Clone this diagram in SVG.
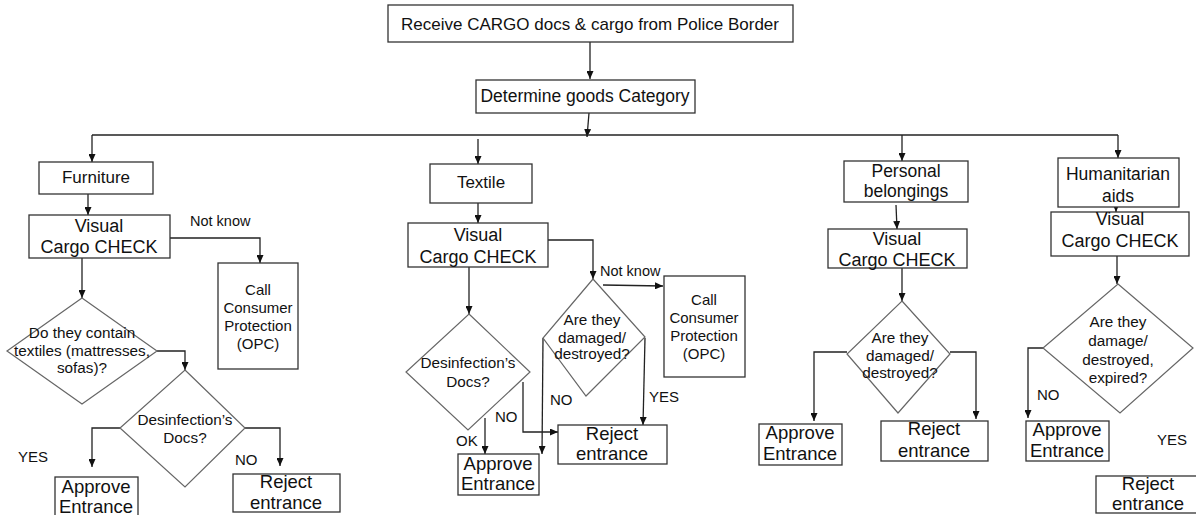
<svg xmlns="http://www.w3.org/2000/svg" width="1196" height="515" viewBox="0 0 1196 515">
  <style>
    text { font-family: "Liberation Sans", Arial, sans-serif; fill: #111; text-anchor: middle; }
    .box { fill: #fff; stroke: #333; stroke-width: 1.3; }
    .dia { fill: #fff; stroke: #666; stroke-width: 1.2; }
    .wire { fill: none; stroke: #222; stroke-width: 1.3; }
    .arr { marker-end: url(#head); }
    .t17 { font-size: 17px; }
    .t18 { font-size: 18px; }
    .t185 { font-size: 18.5px; }
    .t15 { font-size: 15px; }
    .q { font-size: 15.3px; }
    .lbl { font-size: 15px; text-anchor: start; }
  </style>
  <defs>
    <marker id="head" viewBox="0 0 8 7" refX="8" refY="3.5" markerWidth="8" markerHeight="7" markerUnits="userSpaceOnUse" orient="auto">
      <path d="M0,0 L8,3.5 L0,7 z" fill="#111"/>
    </marker>
  </defs>

  <!-- connectors -->
  <g id="connectors" class="wire">
    <line class="arr" x1="590" y1="42" x2="590" y2="79"/>
    <line class="arr" x1="589" y1="113" x2="587" y2="137"/>
    <line x1="92" y1="135" x2="1118" y2="135"/>

    <!-- furniture branch -->
    <line class="arr" x1="92" y1="135" x2="92" y2="162"/>
    <line class="arr" x1="88" y1="194" x2="88" y2="215"/>
    <polyline class="arr" points="170,238 260,238 260,263"/>
    <line class="arr" x1="82" y1="258" x2="82" y2="298"/>
    <polyline class="arr" points="157,351 185,351 185,370"/>
    <polyline class="arr" points="120,428 92,428 92,467"/>
    <polyline class="arr" points="245,428 280,428 280,466"/>

    <!-- textile branch -->
    <line class="arr" x1="478" y1="139" x2="478" y2="164"/>
    <line class="arr" x1="478" y1="203" x2="478" y2="223"/>
    <polyline class="arr" points="546,240 593,240 593,279"/>
    <line class="arr" x1="469" y1="263" x2="469" y2="314"/>
    <line class="arr" x1="603" y1="285" x2="663" y2="286"/>
    <line class="arr" x1="485" y1="418" x2="485" y2="454"/>
    <polyline class="arr" points="523,382 523,432 558,432"/>
    <line class="arr" x1="543" y1="338" x2="542" y2="454"/>
    <line class="arr" x1="645" y1="338" x2="643" y2="425"/>

    <!-- personal belongings branch -->
    <line class="arr" x1="902" y1="135" x2="902" y2="161"/>
    <line class="arr" x1="896" y1="205" x2="897" y2="229"/>
    <line class="arr" x1="902" y1="268" x2="902" y2="301"/>
    <polyline class="arr" points="847,352 814,352 814,421"/>
    <polyline class="arr" points="950,352 976,352 976,419"/>

    <!-- humanitarian aids branch -->
    <line class="arr" x1="1118" y1="135" x2="1118" y2="158"/>
    <line class="arr" x1="1116" y1="203" x2="1116" y2="212"/>
    <line class="arr" x1="1117" y1="256" x2="1117" y2="284"/>
    <polyline class="arr" points="1043,348 1028,348 1028,418"/>
  </g>

  <!-- top of the flow -->
  <g id="receive">
    <rect class="box" x="388" y="5" width="405" height="37"/>
    <text class="t17" x="590" y="30">Receive CARGO docs &amp; cargo from Police Border</text>
  </g>
  <g id="determine">
    <rect class="box" x="476" y="80" width="219" height="33"/>
    <text class="t17" x="585" y="102" style="font-size:17.5px">Determine goods Category</text>
  </g>

  <!-- furniture -->
  <g id="furniture">
    <rect class="box" x="39" y="162" width="114" height="32"/>
    <text class="t17" x="96" y="183">Furniture</text>
  </g>
  <g id="furniture-check">
    <rect class="box" x="29" y="215" width="141" height="43"/>
    <text class="t18" x="99" y="232">Visual</text>
    <text class="t18" x="99" y="253">Cargo CHECK</text>
  </g>
  <text class="lbl" x="190" y="226" style="font-size:14.5px">Not know</text>
  <g id="furniture-opc">
    <rect class="box" x="218" y="263" width="80" height="106"/>
    <text class="t15" x="258" y="295">Call</text>
    <text class="t15" x="258" y="313">Consumer</text>
    <text class="t15" x="258" y="331">Protection</text>
    <text class="t15" x="258" y="349">(OPC)</text>
  </g>
  <g id="furniture-textiles">
    <polygon class="dia" points="82,298 157,351 82,404 7,351"/>
    <text class="q" x="82" y="338">Do they contain</text>
    <text class="q" x="82" y="356">textiles (mattresses,</text>
    <text class="q" x="82" y="373">sofas)?</text>
  </g>
  <g id="furniture-docs">
    <polygon class="dia" points="185,370 245,428 185,487 120,428"/>
    <text class="q" x="185" y="425">Desinfection’s</text>
    <text class="q" x="185" y="443">Docs?</text>
  </g>
  <text class="lbl" x="18" y="462">YES</text>
  <text class="lbl" x="235" y="465">NO</text>
  <g id="furniture-approve">
    <rect class="box" x="55" y="477" width="83" height="50"/>
    <text class="t185" x="96" y="493">Approve</text>
    <text class="t185" x="96" y="513">Entrance</text>
  </g>
  <g id="furniture-reject">
    <rect class="box" x="233" y="474" width="107" height="38"/>
    <text class="t185" x="286" y="488">Reject</text>
    <text class="t185" x="286" y="509">entrance</text>
  </g>

  <!-- textile -->
  <g id="textile">
    <rect class="box" x="430" y="164" width="102" height="39"/>
    <text class="t17" x="481" y="188">Textile</text>
  </g>
  <g id="textile-check">
    <rect class="box" x="408" y="223" width="140" height="44"/>
    <text class="t18" x="478" y="241">Visual</text>
    <text class="t18" x="478" y="263">Cargo CHECK</text>
  </g>
  <text class="lbl" x="600" y="276" style="font-size:14.5px">Not know</text>
  <g id="textile-damaged">
    <polygon class="dia" points="593,279 645,337 586,396 543,338"/>
    <text class="q" x="592" y="325">Are they</text>
    <text class="q" x="592" y="343">damaged/</text>
    <text class="q" x="592" y="359">destroyed?</text>
  </g>
  <g id="textile-opc">
    <rect class="box" x="664" y="276" width="81" height="101"/>
    <text class="t15" x="704" y="305">Call</text>
    <text class="t15" x="704" y="323">Consumer</text>
    <text class="t15" x="704" y="341">Protection</text>
    <text class="t15" x="704" y="359">(OPC)</text>
  </g>
  <g id="textile-docs">
    <polygon class="dia" points="469,314 530,372 468,430 406,372"/>
    <text class="q" x="468" y="368">Desinfection’s</text>
    <text class="q" x="468" y="387">Docs?</text>
  </g>
  <text class="lbl" x="456" y="446">OK</text>
  <text class="lbl" x="495" y="422">NO</text>
  <text class="lbl" x="550" y="405">NO</text>
  <text class="lbl" x="649" y="402">YES</text>
  <g id="textile-reject">
    <rect class="box" x="558" y="425" width="109" height="39"/>
    <text class="t185" x="612" y="440">Reject</text>
    <text class="t185" x="612" y="460">entrance</text>
  </g>
  <g id="textile-approve">
    <rect class="box" x="458" y="454" width="81" height="41"/>
    <text class="t185" x="498" y="470">Approve</text>
    <text class="t185" x="498" y="490">Entrance</text>
  </g>

  <!-- personal belongings -->
  <g id="personal">
    <rect class="box" x="844" y="161" width="124" height="41"/>
    <text class="t17" x="906" y="177" style="font-size:17.5px">Personal</text>
    <text class="t17" x="906" y="197" style="font-size:17.5px">belongings</text>
  </g>
  <g id="personal-check">
    <rect class="box" x="828" y="229" width="139" height="39"/>
    <text class="t18" x="897" y="245">Visual</text>
    <text class="t18" x="897" y="266">Cargo CHECK</text>
  </g>
  <g id="personal-damaged">
    <polygon class="dia" points="902,301 950,354 898,413 847,354"/>
    <text class="q" x="900" y="343">Are they</text>
    <text class="q" x="900" y="361">damaged/</text>
    <text class="q" x="900" y="378">destroyed?</text>
  </g>
  <g id="personal-approve">
    <rect class="box" x="759" y="424" width="83" height="41"/>
    <text class="t185" x="800" y="439">Approve</text>
    <text class="t185" x="800" y="460">Entrance</text>
  </g>
  <g id="personal-reject">
    <rect class="box" x="881" y="421" width="107" height="40"/>
    <text class="t185" x="934" y="435">Reject</text>
    <text class="t185" x="934" y="457">entrance</text>
  </g>

  <!-- humanitarian aids -->
  <g id="humanitarian">
    <rect class="box" x="1058" y="158" width="121" height="49"/>
    <text class="t17" x="1118" y="180" style="font-size:17.5px">Humanitarian</text>
    <text class="t17" x="1118" y="202" style="font-size:17.5px">aids</text>
  </g>
  <g id="humanitarian-check">
    <rect class="box" x="1051" y="212" width="138" height="44"/>
    <text class="t18" x="1120" y="225">Visual</text>
    <text class="t18" x="1120" y="247">Cargo CHECK</text>
  </g>
  <g id="humanitarian-damaged">
    <polygon class="dia" points="1118,284 1193,348 1120,413 1043,348"/>
    <text class="q" x="1118" y="327">Are they</text>
    <text class="q" x="1118" y="346">damage/</text>
    <text class="q" x="1118" y="365">destroyed,</text>
    <text class="q" x="1118" y="383">expired?</text>
  </g>
  <text class="lbl" x="1037" y="400">NO</text>
  <text class="lbl" x="1157" y="445">YES</text>
  <g id="humanitarian-approve">
    <rect class="box" x="1026" y="421" width="83" height="40"/>
    <text class="t185" x="1067" y="436">Approve</text>
    <text class="t185" x="1067" y="457">Entrance</text>
  </g>
  <g id="humanitarian-reject">
    <rect class="box" x="1096" y="476" width="105" height="37"/>
    <text class="t185" x="1148" y="490">Reject</text>
    <text class="t185" x="1148" y="510">entrance</text>
  </g>
</svg>
